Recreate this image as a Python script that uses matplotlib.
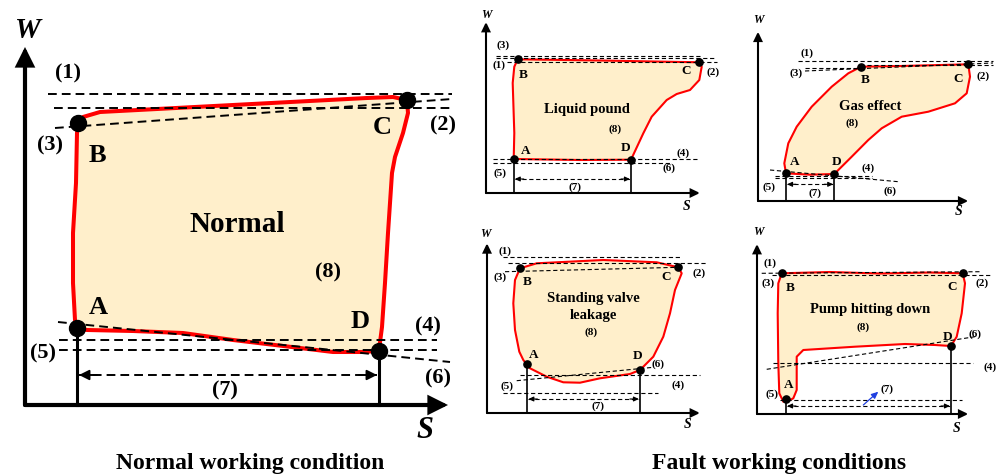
import matplotlib
matplotlib.use("Agg")
import matplotlib.pyplot as plt

plt.rcParams['font.family'] = ['Liberation Serif', 'DejaVu Serif']

FILL = '#FFEFCB'
RED = '#FF0000'

# ------------------------------------------------------------------
# Indicator-card data, every panel in its own local (S, W) units
# ------------------------------------------------------------------
# Normal working condition
normal_loop_s = [52, 50, 48, 48, 51, 52, 53, 58, 75, 208, 342, 368, 382, 383, 378, 370,
                 367, 363, 360, 357, 354, 342, 308, 275, 208, 158, 108, 62, 46]
normal_loop_w = [77, 85, 122, 172, 222, 272, 282, 288, 293, 300, 307, 308, 305, 292, 272, 248,
                 232, 172, 122, 78, 55, 53, 53, 57, 65, 72, 74, 75, 77]
normal_corner_s = [52, 53, 382, 354]
normal_corner_w = [77, 282, 305, 54]
normal_guides = [((23, 311), (427, 311)), ((29, 297), (427, 297)), ((30, 277), (427, 306)),
                 ((34, 65), (412, 65)), ((34, 55), (412, 55)), ((33, 83), (425, 43))]
normal_stroke_w = 30

# Liquid pound
pound_loop_s = [27.7, 28.3, 26.7, 28.3, 31.7, 114, 213.3, 215.7, 213.3, 204, 190.7, 180.7,
                165.7, 157.3, 145, 94]
pound_loop_w = [34, 60, 110, 126.3, 133.7, 132.5, 130.7, 126.3, 113, 103, 99, 93,
                76.3, 59.7, 33.3, 33]
pound_corner_s = [27.7, 31.7, 213.3, 145]
pound_corner_w = [34, 133.7, 130.7, 33.3]
pound_guides = [((10, 137.2), (214, 137.2)), ((10, 134.7), (230, 134.7)),
                ((20.7, 131.3), (230.7, 131.3)), ((7, 34.3), (210.7, 34.3)),
                ((7, 30.3), (184, 30.3))]
pound_stroke_w = 14

# Gas effect
gas_loop_s = [28, 26.3, 30.3, 38.7, 53.7, 73.7, 90.3, 103, 143.7, 210.3, 212, 208.7, 197,
              170.3, 143.7, 123.7, 110.3, 93.7, 76.3, 52]
gas_loop_w = [27.7, 37.7, 57.7, 74.3, 94.3, 114.3, 127.7, 134.3, 135, 136.7, 124.3, 107.7,
              97.7, 89.3, 84.3, 72.7, 61, 44.3, 27, 26.3]
gas_corner_s = [28, 103, 210.3, 76.3]
gas_corner_w = [27.7, 134.3, 136.7, 27]
gas_guides = [((40.3, 140), (235.3, 140)), ((102, 136.5), (235.3, 136.5)),
              ((47, 130), (235, 138)), ((47, 133), (103, 133)),
              ((12, 31), (140.3, 19.3)), ((17, 25.3), (113.7, 25.3)),
              ((17, 23.3), (113.7, 23.3))]
gas_stroke_w = 16.7

# Standing valve leakage
valve_loop_s = [33, 49.7, 116.3, 169.7, 191.3, 194.7, 188, 183, 176.3, 166.3, 153, 143, 113,
                93, 76.3, 59.7, 43, 36.3, 32.3, 28, 26.3, 28]
valve_loop_w = [144.7, 149.7, 153, 150.7, 145.7, 139.7, 123, 99.7, 76.3, 56.3, 43, 39, 34.7,
                30.3, 30.7, 36.3, 44.7, 53, 61.3, 83, 109.7, 133]
valve_corner_s = [40.3, 33, 191.3, 153]
valve_corner_w = [48.7, 144.7, 145.7, 43]
valve_guides = [((16.3, 155.7), (194.7, 155.7)), ((21, 149.7), (219.7, 149.7)),
                ((18, 141.3), (191.3, 145.7)), ((33, 38), (213, 38)),
                ((29.7, 32.3), (166.3, 45.7)), ((16.3, 19.7), (171.3, 19.7))]
valve_stroke_w = 14

# Pump hitting down
pump_loop_s = [24.7, 73, 123, 173, 205.7, 208, 204.7, 199.7, 194, 178, 148, 98, 46.3, 39.7,
               39.7, 36.3, 31.3, 26.3, 22.3, 21.3, 20.7, 21.3]
pump_loop_w = [140.7, 142, 140.5, 141.5, 140.7, 130.7, 100.7, 77.3, 68, 69, 70, 67.3, 64,
               57.3, 24, 15.7, 13, 12.3, 20.7, 50.7, 100.7, 130.7]
pump_corner_s = [29, 24.7, 205.7, 194]
pump_corner_w = [14.7, 140.7, 140.7, 68]
pump_guides = [((4.7, 140.7), (224.7, 142.3)), ((14.7, 139), (233, 139)),
               ((16, 51.3), (216, 51.3)), ((9.7, 44.7), (218, 77.3)),
               ((23, 14), (204.7, 14))]
pump_stroke_w = 8
pump_pointer = ((106.3, 9), (121.3, 22.3))

CORNERS = ['A', 'B', 'C', 'D']

# ------------------------------------------------------------------
BIG = dict(red=2.9, axis=3.0, dash=1.4, dpat=(0, (4.5, 2.6)), stem=2.2, ms=11.5,
           ahl=10, ahw=5, shl=6, shw=3, num=16, letter=19, name=21, w=21, s=22)
SMALL = dict(red=1.5, axis=1.5, dash=0.8, dpat=(0, (3.8, 2.4)), stem=1.2, ms=5.2,
             ahl=5, ahw=2.4, shl=3, shw=1.4, num=8, letter=9.5, name=10.5, w=8.5, s=10)

fig = plt.figure(figsize=(10, 4.75), dpi=100)
FW, FH = 1000, 475


def panel(ox, oy, s_max, w_max, loop_s, loop_w, cs, cw, guides, stroke_w, texts, st):
    ax = fig.add_axes([0, 0, 1, 1])
    ax.set_xlim(-ox, FW - ox)
    ax.set_ylim(oy - FH, oy)
    ax.axis('off')
    ax.patch.set_alpha(0)

    ax.fill(loop_s, loop_w, color=FILL, zorder=1, lw=0)
    ax.plot(loop_s + loop_s[:1], loop_w + loop_w[:1], color=RED, lw=st['red'],
            solid_joinstyle='round', solid_capstyle='round', zorder=2)

    for (p0, p1) in guides:
        ax.plot([p0[0], p1[0]], [p0[1], p1[1]], color='black', lw=st['dash'],
                linestyle=st['dpat'], zorder=3)

    # coordinate axes with arrow heads
    for tip in [(s_max, 0), (0, w_max)]:
        ax.annotate('', xy=tip, xytext=(0, 0),
                    arrowprops=dict(arrowstyle=f"-|>,head_length={st['ahl']},head_width={st['ahw']}",
                                    lw=st['axis'], color='black', shrinkA=0, shrinkB=0,
                                    mutation_scale=1, joinstyle='miter'),
                    zorder=4)

    # stroke stems from A and D
    sa, wa = cs[0], cw[0]
    sd, wd = cs[3], cw[3]
    ax.plot([sa, sa], [0, wa], color='black', lw=st['stem'], zorder=3)
    ax.plot([sd, sd], [0, wd], color='black', lw=st['stem'], zorder=3)

    # stroke length (7)
    inset = st['stem'] * 0.9
    ax.plot([sa + inset, sd - inset], [stroke_w, stroke_w], color='black', lw=st['dash'],
            linestyle=st['dpat'], zorder=3)
    for end, back in [(sa + inset, 1), (sd - inset, -1)]:
        ax.annotate('', xy=(end, stroke_w), xytext=(end + back * st['shl'] * 3, stroke_w),
                    arrowprops=dict(arrowstyle=f"-|>,head_length={st['shl']},head_width={st['shw']}",
                                    lw=st['dash'], color='black', shrinkA=0, shrinkB=0,
                                    mutation_scale=1), zorder=3)

    ax.plot(cs, cw, 'o', color='black', ms=st['ms'], zorder=5)

    for txt, s, w, kind in texts:
        size = st[kind]
        style = 'italic' if kind in ('w', 's') else 'normal'
        ax.text(s, w, txt, fontsize=size, fontweight='bold', fontstyle=style,
                ha='center', va='center', zorder=6)
    return ax


panel(25, 405, 423, 358, normal_loop_s, normal_loop_w, normal_corner_s, normal_corner_w,
      normal_guides, normal_stroke_w,
      [('(1)', 43, 332, 'num'), ('(2)', 418, 280, 'num'), ('(3)', 25, 260, 'num'),
       ('B', 72, 250, 'letter'), ('C', 357, 278, 'letter'), ('Normal', 212, 181, 'name'),
       ('(8)', 303, 133, 'num'), ('A', 73, 97, 'letter'), ('D', 335, 83, 'letter'),
       ('(4)', 403, 79, 'num'), ('(5)', 18, 52, 'num'), ('(6)', 413, 27, 'num'),
       ('(7)', 200, 15, 'num'), ('W', 3, 375, 'w'), ('S', 400, -25, 's')], BIG)

panel(486, 193, 214, 171, pound_loop_s, pound_loop_w, pound_corner_s, pound_corner_w,
      pound_guides, pound_stroke_w,
      [('(3)', 17.3, 148, 'num'), ('(1)', 13.3, 128, 'num'), ('B', 37.3, 118, 'letter'),
       ('C', 200, 122.3, 'letter'), ('(2)', 227.3, 121.3, 'num'),
       ('Liquid pound', 100.7, 84, 'name'), ('(8)', 129, 64, 'num'),
       ('A', 40, 42.3, 'letter'), ('D', 140, 44.7, 'letter'), ('(4)', 197.3, 40.3, 'num'),
       ('(5)', 14, 20.3, 'num'), ('(6)', 183, 24.7, 'num'), ('(7)', 89, 6.3, 'num'),
       ('W', 0.7, 178, 'w'), ('S', 200.7, -13.7, 's')], SMALL)

panel(758, 201, 210.3, 169.3, gas_loop_s, gas_loop_w, gas_corner_s, gas_corner_w,
      gas_guides, gas_stroke_w,
      [('(1)', 48.7, 148.3, 'num'), ('(3)', 37.7, 127.7, 'num'), ('B', 107, 121, 'letter'),
       ('C', 199.7, 121.7, 'letter'), ('(2)', 225.3, 125, 'num'),
       ('Gas effect', 112, 94.3, 'name'), ('(8)', 93.7, 78.3, 'num'),
       ('A', 36.3, 38.7, 'letter'), ('D', 78.7, 38.7, 'letter'), ('(4)', 110.3, 32.7, 'num'),
       ('(5)', 11.3, 14.3, 'num'), ('(6)', 132, 10.3, 'num'), ('(7)', 57, 8.3, 'num'),
       ('W', 0.3, 181, 'w'), ('S', 200.3, -10.7, 's')], SMALL)

panel(487, 413, 213, 169.7, valve_loop_s, valve_loop_w, valve_corner_s, valve_corner_w,
      valve_guides, valve_stroke_w,
      [('(1)', 18, 162.3, 'num'), ('(3)', 13, 136.3, 'num'), ('B', 39.7, 130.7, 'letter'),
       ('C', 179, 136.3, 'letter'), ('(2)', 212.3, 139.7, 'num'),
       ('Standing valve', 106.3, 114.7, 'name'), ('leakage', 106.3, 97, 'name'),
       ('(8)', 103.7, 81.3, 'num'), ('A', 46.3, 58, 'letter'), ('D', 150.7, 57, 'letter'),
       ('(6)', 171.3, 48.7, 'num'), ('(4)', 191.3, 28, 'num'), ('(5)', 19.7, 27, 'num'),
       ('(7)', 111.3, 7, 'num'), ('W', -2, 179, 'w'), ('S', 200.3, -12, 's')], SMALL)

ax_pump = panel(757, 414, 211.3, 170, pump_loop_s, pump_loop_w, pump_corner_s, pump_corner_w,
                pump_guides, pump_stroke_w,
                [('(1)', 13, 150.7, 'num'), ('(3)', 11.3, 130.7, 'num'), ('B', 33, 125.7, 'letter'),
                 ('C', 194.7, 126.7, 'letter'), ('(2)', 225.3, 131.3, 'num'),
                 ('Pump hitting down', 113, 104, 'name'), ('(8)', 106.3, 87.3, 'num'),
                 ('D', 190.3, 77.3, 'letter'), ('(6)', 218, 80, 'num'), ('(4)', 233, 47.3, 'num'),
                 ('A', 31.3, 29, 'letter'), ('(5)', 14.7, 20, 'num'), ('(7)', 129.7, 24.7, 'num'),
                 ('W', 1.3, 182.3, 'w'), ('S', 199.7, -14.3, 's')], SMALL)
ax_pump.annotate('', xy=pump_pointer[1], xytext=pump_pointer[0],
                 arrowprops=dict(arrowstyle='-|>,head_length=4,head_width=1.8', lw=0.9,
                                 color='#1F3FE0', shrinkA=0, shrinkB=0, mutation_scale=1),
                 zorder=6)

fig.text(250 / FW, 1 - 463 / FH, 'Normal working condition', fontsize=17, fontweight='bold',
         ha='center', va='center')
fig.text(779 / FW, 1 - 463 / FH, 'Fault working conditions', fontsize=17, fontweight='bold',
         ha='center', va='center')

fig.savefig('out.png', dpi=100, facecolor='white')
